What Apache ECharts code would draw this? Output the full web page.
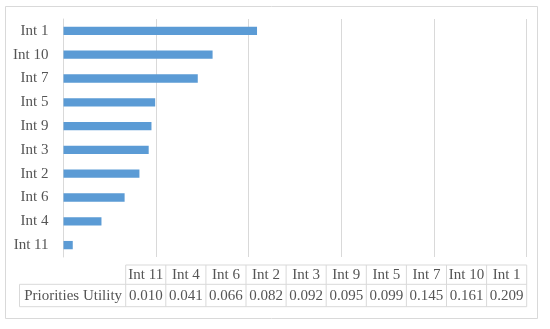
<!DOCTYPE html>
<html>
<head>
<meta charset="utf-8">
<script src="https://cdn.jsdelivr.net/npm/echarts@6/dist/echarts.min.js"></script>
<style>
html,body{margin:0;padding:0;background:#fff;}
#main{width:550px;height:329px;}
</style>
</head>
<body>
<div id="main"></div>
<script>
// categories, bottom to top (same order as the data table)
var categories = ['Int 11', 'Int 4', 'Int 6', 'Int 2', 'Int 3', 'Int 9', 'Int 5', 'Int 7', 'Int 10', 'Int 1'];
var utility = [0.010, 0.041, 0.066, 0.082, 0.092, 0.095, 0.099, 0.145, 0.161, 0.209];
var rowTitle = 'Priorities Utility';

(function(){
    var font = '"Liberation Serif", "DejaVu Serif", serif';
    var textColor = '#555555';
    var lineColor = '#d9d9d9';

    // data table under the chart
    var tLeft = 19.5, tCol0 = 125.7, colW = 40.1;
    var yTop = 265, yMid = 284.3, yBot = 306.7;
    var tRight = tCol0 + colW * categories.length;
    var g = [];
    function line(x1, y1, x2, y2){
        g.push({type:'line', shape:{x1:x1,y1:y1,x2:x2,y2:y2}, style:{stroke:lineColor, lineWidth:1}, silent:true});
    }
    function txt(x, y, s){
        g.push({type:'text', x:x, y:y, style:{text:s, fill:textColor, font:'15px ' + font, textAlign:'center', textVerticalAlign:'middle'}, silent:true});
    }
    line(tCol0, yTop, tRight, yTop);
    line(tLeft, yMid, tRight, yMid);
    line(tLeft, yBot, tRight, yBot);
    line(tLeft, yMid, tLeft, yBot);
    for (var i = 0; i <= categories.length; i++) {
        line(tCol0 + colW * i, yTop, tCol0 + colW * i, yBot);
    }
    categories.forEach(function(c, i){
        txt(tCol0 + colW * (i + 0.5), (yTop + yMid) / 2 + 0.5, c);
        txt(tCol0 + colW * (i + 0.5), (yMid + yBot) / 2 + 0.5, utility[i].toFixed(3));
    });
    txt((tLeft + tCol0) / 2 + 0.5, (yMid + yBot) / 2 + 0.5, rowTitle);
    // outer chart frame
    g.push({type:'rect', shape:{x:5.5, y:6.5, width:532, height:312}, style:{fill:'none', stroke:lineColor, lineWidth:1}, silent:true, z:-1});

    var mycharts = echarts.init(document.getElementById('main'), null, {renderer:'canvas'});
    var option = {
        backgroundColor: '#fff',
        animation: false,
        grid: {left: 63.5, top: 19, width: 463, height: 238, containLabel: false},
        xAxis: {
            type: 'value',
            min: 0, max: 0.5, interval: 0.1,
            axisLabel: {show: false},
            axisLine: {show: false},
            axisTick: {show: false},
            splitLine: {lineStyle: {color: lineColor, width: 1}}
        },
        yAxis: {
            type: 'category',
            data: categories,
            axisLine: {lineStyle: {color: lineColor}},
            axisTick: {inside: true, length: 4, lineStyle: {color: lineColor}},
            axisLabel: {color: textColor, fontFamily: font, fontSize: 15, margin: 15}
        },
        series: [{
            type: 'bar',
            data: utility,
            barWidth: '35%',
            itemStyle: {color: '#5b9bd5'}
        }],
        graphic: g
    };
    mycharts.setOption(option);
})();
</script>
</body>
</html>
